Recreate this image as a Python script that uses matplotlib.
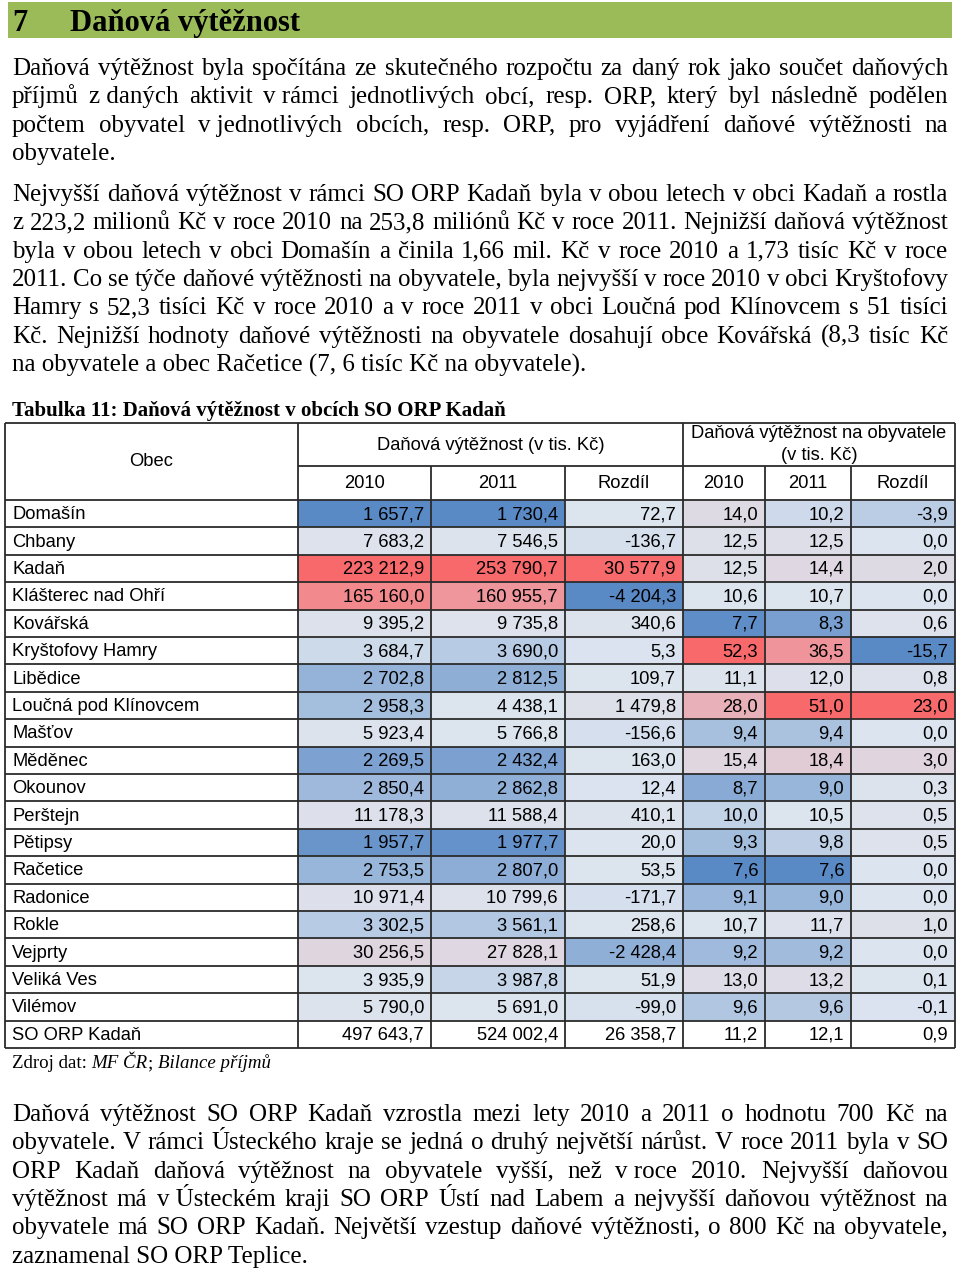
import numpy as np
import matplotlib
matplotlib.use("Agg")
import matplotlib.pyplot as plt
from matplotlib.colors import LinearSegmentedColormap, TwoSlopeNorm
from matplotlib.patches import Rectangle

# --- table data -------------------------------------------------------
obce = ["Domašín", "Chbany", "Kadaň", "Klášterec nad Ohří", "Kovářská",
        "Kryštofovy Hamry", "Libědice", "Loučná pod Klínovcem", "Mašťov",
        "Měděnec", "Okounov", "Perštejn", "Pětipsy", "Račetice", "Radonice",
        "Rokle", "Vejprty", "Veliká Ves", "Vilémov"]
dv_2010 = [1657.7, 7683.2, 223212.9, 165160.0, 9395.2, 3684.7, 2702.8, 2958.3,
           5923.4, 2269.5, 2850.4, 11178.3, 1957.7, 2753.5, 10971.4, 3302.5,
           30256.5, 3935.9, 5790.0]
dv_2011 = [1730.4, 7546.5, 253790.7, 160955.7, 9735.8, 3690.0, 2812.5, 4438.1,
           5766.8, 2432.4, 2862.8, 11588.4, 1977.7, 2807.0, 10799.6, 3561.1,
           27828.1, 3987.8, 5691.0]
dv_rozdil = [72.7, -136.7, 30577.9, -4204.3, 340.6, 5.3, 109.7, 1479.8, -156.6,
             163.0, 12.4, 410.1, 20.0, 53.5, -171.7, 258.6, -2428.4, 51.9, -99.0]
nao_2010 = [14.0, 12.5, 12.5, 10.6, 7.7, 52.3, 11.1, 28.0, 9.4, 15.4, 8.7, 10.0,
            9.3, 7.6, 9.1, 10.7, 9.2, 13.0, 9.6]
nao_2011 = [10.2, 12.5, 14.4, 10.7, 8.3, 36.5, 12.0, 51.0, 9.4, 18.4, 9.0, 10.5,
            9.8, 7.6, 9.0, 11.7, 9.2, 13.2, 9.6]
nao_rozdil = [-3.9, 0.0, 2.0, 0.0, 0.6, -15.7, 0.8, 23.0, 0.0, 3.0, 0.3, 0.5,
              0.5, 0.0, 0.0, 1.0, 0.0, 0.1, -0.1]
celkem_nazev = "SO ORP Kadaň"
celkem = [497643.7, 524002.4, 26358.7, 11.2, 12.1, 0.9]
sub_headers = ["2010", "2011", "Rozdíl", "2010", "2011", "Rozdíl"]

# --- texts ------------------------------------------------------------
odstavec_1 = [
    "Daňová výtěžnost byla spočítána ze skutečného rozpočtu za daný rok jako součet daňových",
    "příjmů z\u00a0daných aktivit v\u00a0rámci jednotlivých obcí, resp. ORP, který byl následně podělen",
    "počtem obyvatel v\u00a0jednotlivých obcích, resp. ORP, pro vyjádření daňové výtěžnosti na",
    "obyvatele.",
]
odstavec_2 = [
    "Nejvyšší daňová výtěžnost v rámci SO ORP Kadaň byla v obou letech v obci Kadaň a rostla",
    "z 223,2 milionů Kč v roce 2010 na 253,8 miliónů Kč v roce 2011. Nejnižší daňová výtěžnost",
    "byla v obou letech v obci Domašín a činila 1,66 mil. Kč v roce 2010 a 1,73 tisíc Kč v roce",
    "2011. Co se týče daňové výtěžnosti na obyvatele, byla nejvyšší v roce 2010 v obci Kryštofovy",
    "Hamry s 52,3 tisíci Kč v roce 2010 a v roce 2011 v obci Loučná pod Klínovcem s 51 tisíci",
    "Kč. Nejnižší hodnoty daňové výtěžnosti na obyvatele dosahují obce Kovářská (8,3 tisíc Kč",
    "na obyvatele a obec Račetice (7, 6 tisíc Kč na obyvatele).",
]
odstavec_3 = [
    "Daňová výtěžnost SO ORP Kadaň vzrostla mezi lety 2010 a 2011 o hodnotu 700 Kč na",
    "obyvatele. V rámci Ústeckého kraje se jedná o druhý největší nárůst. V roce 2011 byla v SO",
    "ORP Kadaň daňová výtěžnost na obyvatele vyšší, než v\u00a0roce 2010. Nejvyšší daňovou",
    "výtěžnost má v\u00a0Ústeckém kraji SO ORP Ústí nad Labem a nejvyšší daňovou výtěžnost na",
    "obyvatele má SO ORP Kadaň. Největší vzestup daňové výtěžnosti, o 800 Kč na obyvatele,",
    "zaznamenal SO ORP Teplice.",
]

SERIF = "Liberation Serif"
SANS = "Liberation Sans"
BODY_SIZE = 18
LINE_H = 28.35
LEFT, RIGHT = 12, 948

W, H = 960, 1269
fig = plt.figure(figsize=(W / 100, H / 100), dpi=100)
ax = fig.add_axes([0, 0, 1, 1])
ax.set_xlim(0, W)
ax.set_ylim(H, 0)
ax.axis("off")
renderer = fig.canvas.get_renderer()


def fmt(v):
    s = f"{v:,.1f}"
    return s.replace(",", " ").replace(".", ",")


def justified_line(line, y, last=False):
    if last:
        ax.text(LEFT, y, line.replace("\u00a0", " "), fontsize=BODY_SIZE,
                family=SERIF, va="baseline", ha="left")
        return
    words = line.split(" ")
    arts = [ax.text(0, y, w.replace("\u00a0", " "), fontsize=BODY_SIZE,
                    family=SERIF, va="baseline", ha="left") for w in words]
    widths = [a.get_window_extent(renderer).width for a in arts]
    gap = (RIGHT - LEFT - sum(widths)) / max(len(words) - 1, 1)
    x = LEFT
    for a, w in zip(arts, widths):
        a.set_x(x)
        x += w + gap


def paragraph(lines, y0):
    for i, line in enumerate(lines):
        justified_line(line, y0 + i * LINE_H, last=(i == len(lines) - 1))


# heading
ax.add_patch(Rectangle((8, 2), 944, 36, facecolor="#9BBB59", edgecolor="none"))
ax.text(12, 31, "7", fontsize=22, family=SERIF, fontweight="bold", va="baseline")
ax.text(70, 31, "Daňová výtěžnost", fontsize=22, family=SERIF,
        fontweight="bold", va="baseline")

paragraph(odstavec_1, 75)
paragraph(odstavec_2, 201)

# table caption
ax.text(12, 416, "Tabulka 11: Daňová výtěžnost v obcích SO ORP Kadaň",
        fontsize=15, family=SERIF, fontweight="bold", va="baseline")

# --- table ------------------------------------------------------------
col_x = [5, 298, 431, 565, 683, 765, 851, 955]
top, mid_line, data_top, row_h = 423, 466, 500, 27.4
n = len(obce)
bottom = data_top + (n + 1) * row_h

cmap = LinearSegmentedColormap.from_list("bwr_xl", ["#5A8AC6", "#DCE4EF", "#F8696B"])
columns = [dv_2010, dv_2011, dv_rozdil, nao_2010, nao_2011, nao_rozdil]

TSIZE = 13.2
for c, vals in enumerate(columns):
    vals = np.array(vals)
    norm = TwoSlopeNorm(vcenter=np.median(vals), vmin=vals.min(), vmax=vals.max())
    x0, x1 = col_x[c + 1], col_x[c + 2]
    for r, v in enumerate(vals):
        y = data_top + r * row_h
        ax.add_patch(Rectangle((x0, y), x1 - x0, row_h,
                               facecolor=cmap(norm(v)), edgecolor="none"))
        ax.text(x1 - 7, y + row_h / 2 + 1, fmt(v), fontsize=TSIZE, family=SANS,
                ha="right", va="center")
    ax.text(x1 - 7, data_top + n * row_h + row_h / 2 + 1, fmt(celkem[c]),
            fontsize=TSIZE, family=SANS, ha="right", va="center")
    ax.text((x0 + x1) / 2, (mid_line + data_top) / 2 + 1, sub_headers[c],
            fontsize=TSIZE, family=SANS, ha="center", va="center")

for r, name in enumerate(obce + [celkem_nazev]):
    ax.text(12, data_top + r * row_h + row_h / 2 + 1, name, fontsize=TSIZE,
            family=SANS, ha="left", va="center")

ax.text((col_x[0] + col_x[1]) / 2, (top + data_top) / 2, "Obec",
        fontsize=TSIZE, family=SANS, ha="center", va="center")
ax.text((col_x[1] + col_x[4]) / 2, (top + mid_line) / 2 + 1,
        "Daňová výtěžnost (v tis. Kč)", fontsize=TSIZE, family=SANS,
        ha="center", va="center")
ax.text((col_x[4] + col_x[7]) / 2, 434, "Daňová výtěžnost na obyvatele",
        fontsize=TSIZE, family=SANS, ha="center", va="center")
ax.text((col_x[4] + col_x[7]) / 2, 455, "(v tis. Kč)",
        fontsize=TSIZE, family=SANS, ha="center", va="center")

# grid lines
lc = "#2B2B2B"
lw = 1.3
ax.hlines([top, data_top] + [data_top + (i + 1) * row_h for i in range(n)] + [bottom],
          col_x[0], col_x[-1], color=lc, lw=lw)
ax.hlines(mid_line, col_x[1], col_x[-1], color=lc, lw=lw)
ax.vlines([col_x[0], col_x[1], col_x[4], col_x[-1]], top, bottom, color=lc, lw=lw)
ax.vlines([col_x[2], col_x[3], col_x[5], col_x[6]], mid_line, bottom, color=lc, lw=lw)

# source
x = 12
y_src = 1068
for part, style in [("Zdroj dat: ", "normal"), ("MF ČR", "italic"), ("; ", "normal"),
                    ("Bilance příjmů", "italic")]:
    t = ax.text(x, y_src, part, fontsize=13.6, family=SERIF, style=style, va="baseline")
    x += t.get_window_extent(renderer).width

paragraph(odstavec_3, 1121)

fig.savefig("out.png", dpi=100)
